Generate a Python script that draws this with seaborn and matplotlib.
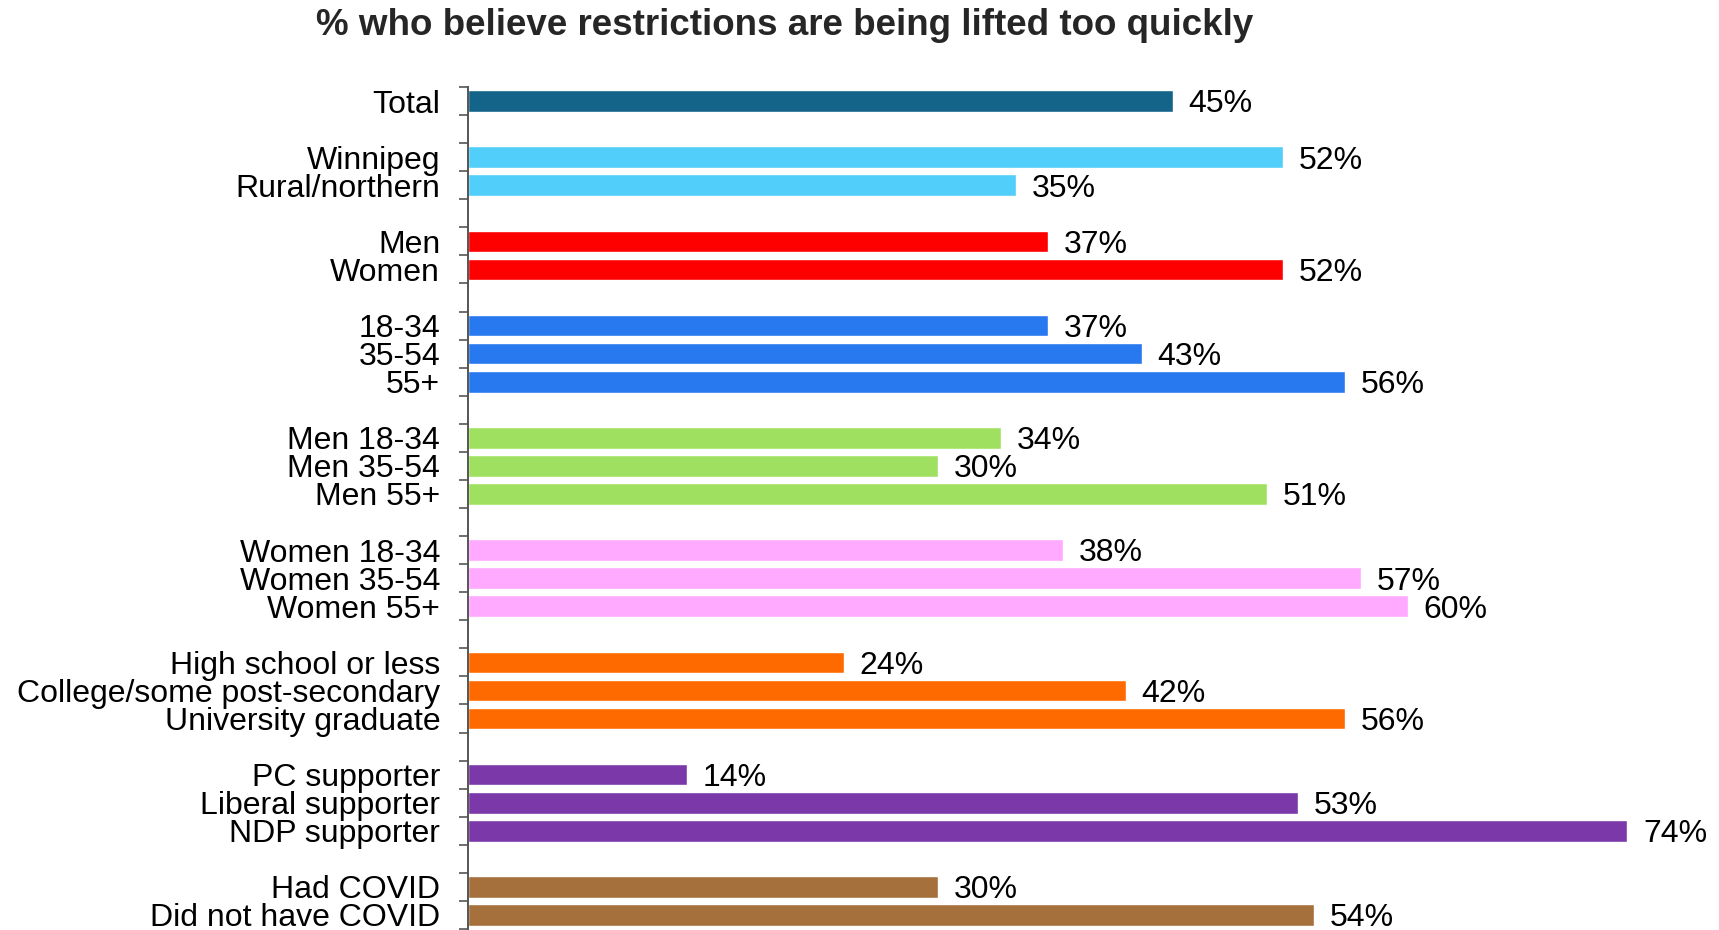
import matplotlib
matplotlib.use("Agg")
import matplotlib.pyplot as plt
from matplotlib.ticker import FixedLocator
from matplotlib.transforms import ScaledTranslation
import numpy as np
import pandas as pd
import seaborn as sns

# Survey breakdown: share who believe restrictions are being lifted too quickly
labels = [
    "Total",
    "Winnipeg", "Rural/northern",
    "Men", "Women",
    "18-34", "35-54", "55+",
    "Men 18-34", "Men 35-54", "Men 55+",
    "Women 18-34", "Women 35-54", "Women 55+",
    "High school or less", "College/some post-secondary", "University graduate",
    "PC supporter", "Liberal supporter", "NDP supporter",
    "Had COVID", "Did not have COVID",
]
values = [
    45,
    52, 35,
    37, 52,
    37, 43, 56,
    34, 30, 51,
    38, 57, 60,
    24, 42, 56,
    14, 53, 74,
    30, 54,
]
groups = [
    "total",
    "region", "region",
    "gender", "gender",
    "age", "age", "age",
    "men_age", "men_age", "men_age",
    "women_age", "women_age", "women_age",
    "education", "education", "education",
    "party", "party", "party",
    "covid", "covid",
]
group_colors = {
    "total": "#136488",
    "region": "#52CEFA",
    "gender": "#FF0000",
    "age": "#2878F0",
    "men_age": "#A0E060",
    "women_age": "#FFAAFF",
    "education": "#FF6A00",
    "party": "#7A38A8",
    "covid": "#A6703C",
}

# Row positions: each group is followed by one blank row
positions = []
row = 0
for i, g in enumerate(groups):
    if i > 0 and g != groups[i - 1]:
        row += 1
    positions.append(row)
    row += 1
n_rows = positions[-1] + 1

df = pd.DataFrame({"label": labels, "value": values, "group": groups, "pos": positions})

sns.set_theme(style="white")
plt.rcParams["font.family"] = ["Liberation Sans", "DejaVu Sans"]

fig = plt.figure(figsize=(17.19, 9.30), dpi=100)
ax = fig.add_axes([468 / 1719, 1 / 930, 1222 / 1719, 842 / 930])

sns.barplot(
    data=df, x="value", y="pos", hue="group", palette=group_colors,
    orient="h", native_scale=True, dodge=False, width=0.77,
    saturation=1, legend=False, ax=ax,
)

ax.set_xlim(0, 78)
ax.set_ylim(n_rows - 0.5, -0.5)

for v, p in zip(values, positions):
    ax.text(v + 1.0, p + 0.12, f"{v}%", va="center", ha="left",
            fontsize=23, color="black")

ax.yaxis.set_major_locator(FixedLocator(positions))
ax.set_yticklabels(labels, fontsize=23, color="black")
shift = ScaledTranslation(0, 1.5 / 72, fig.dpi_scale_trans)
for lbl in ax.get_yticklabels():
    lbl.set_transform(lbl.get_transform() + shift)
ax.yaxis.set_minor_locator(FixedLocator(np.arange(-0.5, n_rows, 1.0)))
ax.tick_params(axis="y", which="major", length=0, pad=20)
ax.tick_params(axis="y", which="minor", left=True, length=6.5, width=1.2,
               color="#555555", direction="out")
ax.set_xticks([])
ax.set_xlabel("")
ax.set_ylabel("")

for side in ["top", "right", "bottom"]:
    ax.spines[side].set_visible(False)
ax.spines["left"].set_color("#555555")
ax.spines["left"].set_linewidth(1.4)

fig.text(0.4566, 0.973, "% who believe restrictions are being lifted too quickly",
         ha="center", va="center", fontsize=26.5, fontweight="bold")

fig.savefig("out.png", dpi=100)
